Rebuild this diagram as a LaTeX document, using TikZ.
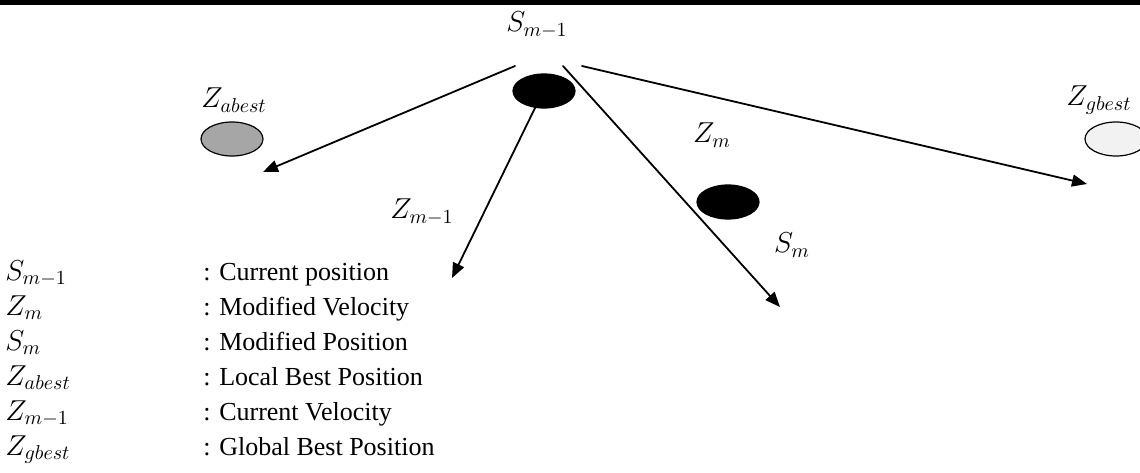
\documentclass[tikz,border=0pt]{standalone}
\usepackage{fontspec}
\setmainfont{Liberation Serif}
\usetikzlibrary{arrows.meta,shapes.geometric}

\begin{document}
\begin{tikzpicture}[x=0.5pt,y=-0.5pt,>={Triangle[length=7.5pt,width=6pt]},font=\fontsize{13}{15}\selectfont,line cap=round,
  blob/.style={ellipse,draw,line width=0.6pt,minimum width=31pt,minimum height=17pt,inner sep=0pt},
  vec/.style={->,line width=0.9pt},
  key/.style={anchor=base west,inner sep=0pt},
  sym/.style={key,font=\fontsize{14.5}{16}\selectfont},
  lbl/.style={inner sep=0pt,font=\fontsize{14.5}{16}\selectfont}]
\useasboundingbox (0,0) rectangle (1140,472);
\fill (0,0) rectangle (1140,5);
\node[blob,fill=black] (cur) at (544,91) {};
\node[blob,fill=black] (mod) at (728,202) {};
\node[blob,fill=gray!70] (abest) at (232,139) {};
\node[blob,fill=gray!10] (gbest) at (1116,139) {};
\node[lbl] (lcur) at (537,25) {$S_{m-1}$};
\node[lbl] (labest) at (234,100) {$Z_{abest}$};
\node[lbl] (lgbest) at (1099,100) {$Z_{gbest}$};
\node[lbl] (lzm) at (712,135) {$Z_m$};
\node[lbl] (lsm) at (792,245) {$S_m$};
\node[lbl] (lzold) at (422,212) {$Z_{m-1}$};
\coordinate (s1) at (515,66);
\coordinate (s2) at (535,108);
\coordinate (s3) at (563,66);
\coordinate (s4) at (582,66);
\coordinate (t1) at (263,172);
\coordinate (t2) at (452,278);
\coordinate (t3) at (780,307);
\coordinate (t4) at (1087,184);
\draw[vec] (s1) -- (t1);
\draw[vec] (s2) -- (t2);
\draw[vec] (s3) -- (t3);
\draw[vec] (s4) -- (t4);
\node[sym] (k1) at (5,280) {$S_{m-1}$};
\node[key] (d1) at (203,280) {: Current position};
\node[sym] (k2) at (5,315) {$Z_m$};
\node[key] (d2) at (203,315) {: Modified Velocity};
\node[sym] (k3) at (5,350) {$S_m$};
\node[key] (d3) at (203,350) {: Modified Position};
\node[sym] (k4) at (5,385) {$Z_{abest}$};
\node[key] (d4) at (203,385) {: Local Best Position};
\node[sym] (k5) at (5,420) {$Z_{m-1}$};
\node[key] (d5) at (203,420) {: Current Velocity};
\node[sym] (k6) at (5,455) {$Z_{gbest}$};
\node[key] (d6) at (203,455) {: Global Best Position};
\end{tikzpicture}
\end{document}
